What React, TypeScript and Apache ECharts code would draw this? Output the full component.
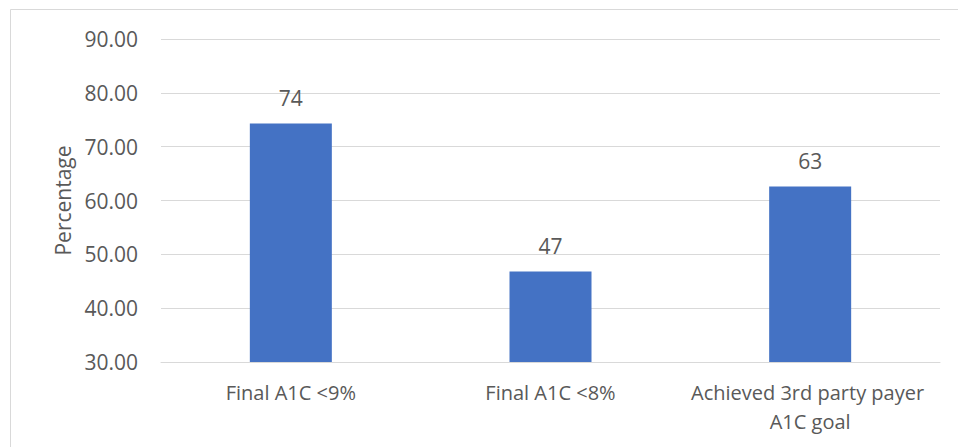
import React, { useEffect, useRef } from "react";
import * as echarts from "echarts";

const categories = ["Final A1C <9%", "Final A1C <8%", "Achieved 3rd party payer A1C goal"];
const percentages = [74.3, 46.8, 62.6];
const yMin = 30;
const yMax = 90;
const yStep = 10;

const TEXT = "#595959";
const FONT = "'Open Sans', 'Noto Sans', sans-serif";

export default function App() {
  const ref = useRef<HTMLDivElement>(null);

  useEffect(() => {
    if (!ref.current) return;
    const chart = echarts.init(ref.current, undefined, { renderer: "svg" });
    chart.setOption({
      animation: false,
      textStyle: { fontFamily: FONT },
      graphic: [
        {
          type: "rect",
          shape: { x: 10.5, y: 9.5, width: 980, height: 480 },
          style: { fill: "none", stroke: "#d9d9d9", lineWidth: 1 },
          silent: true,
        },
      ],
      grid: { left: 161, right: 18, top: 39, bottom: 85 },
      xAxis: {
        type: "category",
        data: categories,
        axisLine: { show: true, lineStyle: { color: "#d9d9d9" } },
        axisTick: { show: false },
        axisLabel: {
          interval: 0,
          color: TEXT,
          fontSize: 20,
          fontFamily: FONT,
          margin: 16,
          lineHeight: 29,
          width: 255,
          overflow: "break",
        },
      },
      yAxis: {
        type: "value",
        min: yMin,
        max: yMax,
        interval: yStep,
        name: "Percentage",
        nameLocation: "middle",
        nameGap: 88,
        nameTextStyle: { color: TEXT, fontSize: 21, fontFamily: FONT },
        axisLine: { show: false },
        axisTick: { show: false },
        splitLine: { lineStyle: { color: "#d9d9d9", width: 1 } },
        axisLabel: {
          color: TEXT,
          fontSize: 21,
          fontFamily: FONT,
          margin: 23,
          formatter: (v: number) => v.toFixed(2),
        },
      },
      series: [
        {
          type: "bar",
          data: percentages,
          barWidth: 82,
          itemStyle: { color: "#4472c4" },
          label: {
            show: true,
            position: "top",
            distance: 15,
            color: TEXT,
            fontSize: 21,
            fontFamily: FONT,
            formatter: (p: any) => Math.round(p.value).toString(),
          },
        },
      ],
    });
    return () => chart.dispose();
  }, []);

  return (
    <div
      ref={ref}
      style={{ position: "fixed", left: 0, top: 0, width: 958, height: 447, background: "#fff" }}
    />
  );
}
